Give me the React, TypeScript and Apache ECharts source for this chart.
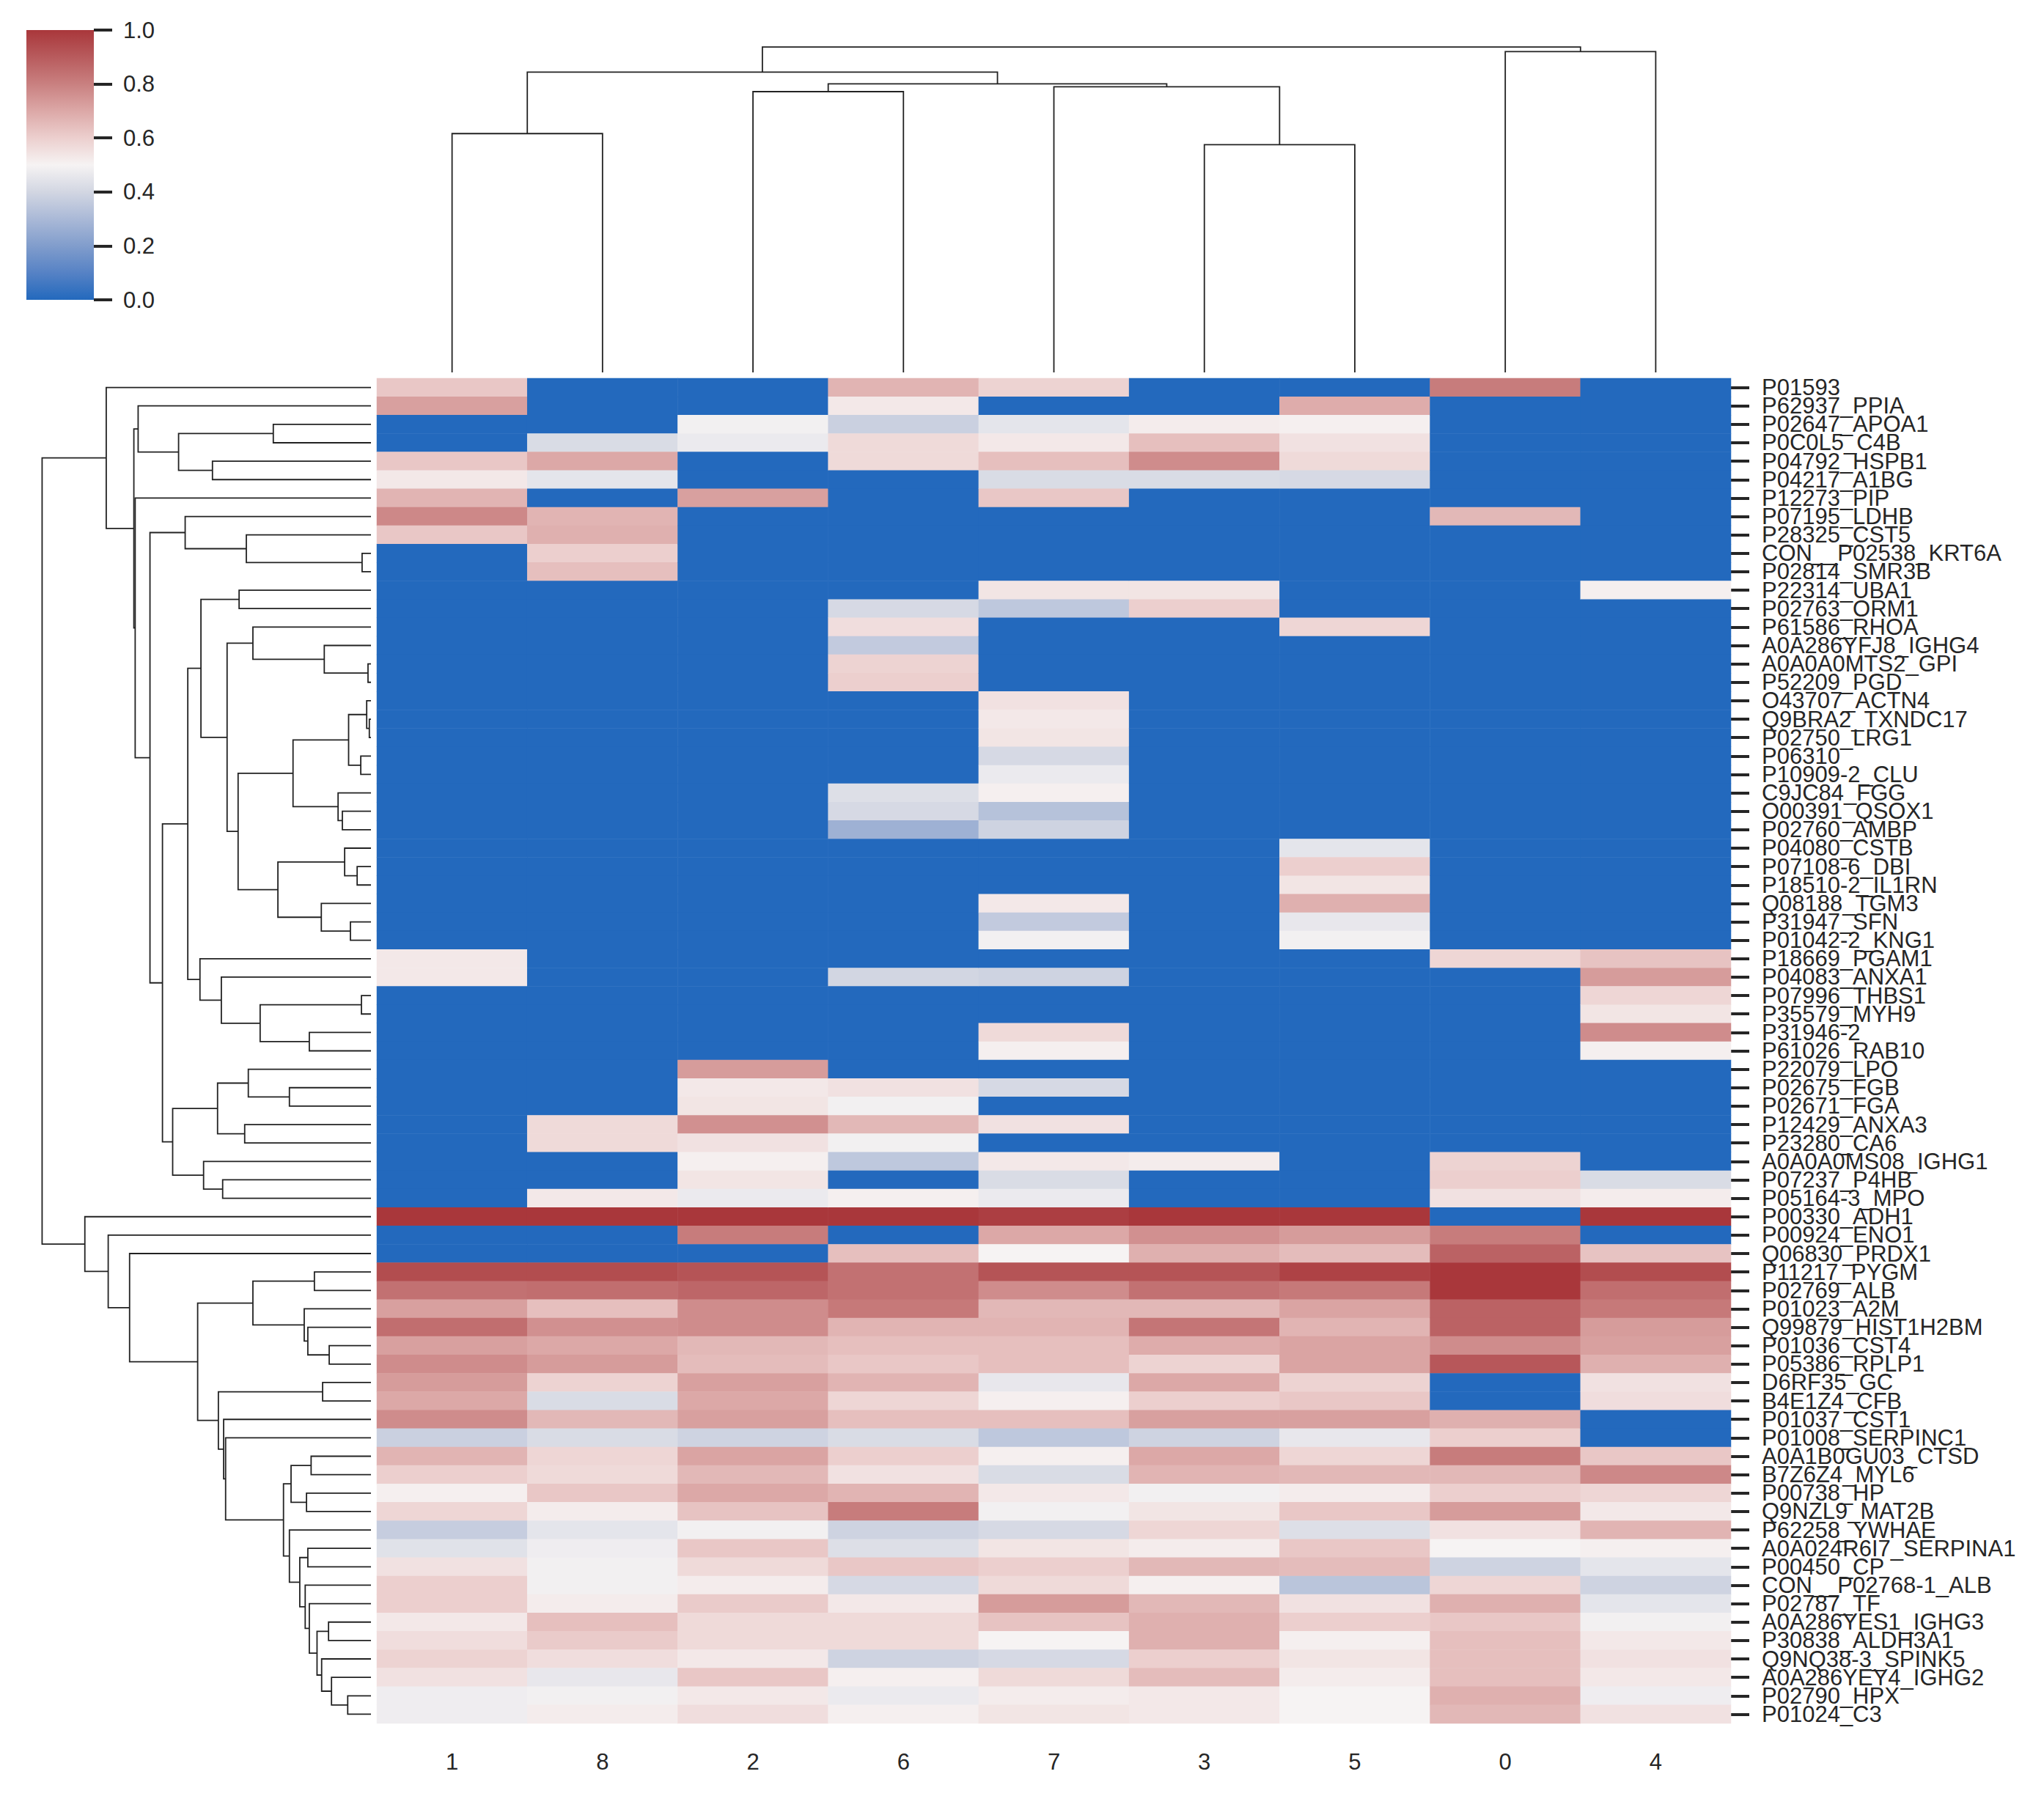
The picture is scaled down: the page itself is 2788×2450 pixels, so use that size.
import React, { useEffect, useRef } from "react";
import * as echarts from "echarts";

// ---------- data ----------
const colLabels = ["1", "8", "2", "6", "7", "3", "5", "0", "4"];

const rowLabels = [
  "P01593", "P62937_PPIA", "P02647_APOA1", "P0C0L5_C4B", "P04792_HSPB1", "P04217_A1BG",
  "P12273_PIP", "P07195_LDHB", "P28325_CST5", "CON__P02538_KRT6A", "P02814_SMR3B",
  "P22314_UBA1", "P02763_ORM1", "P61586_RHOA", "A0A286YFJ8_IGHG4", "A0A0A0MTS2_GPI",
  "P52209_PGD", "O43707_ACTN4", "Q9BRA2_TXNDC17", "P02750_LRG1", "P06310", "P10909-2_CLU",
  "C9JC84_FGG", "O00391_QSOX1", "P02760_AMBP", "P04080_CSTB", "P07108-6_DBI",
  "P18510-2_IL1RN", "Q08188_TGM3", "P31947_SFN", "P01042-2_KNG1", "P18669_PGAM1",
  "P04083_ANXA1", "P07996_THBS1", "P35579_MYH9", "P31946-2", "P61026_RAB10", "P22079_LPO",
  "P02675_FGB", "P02671_FGA", "P12429_ANXA3", "P23280_CA6", "A0A0A0MS08_IGHG1",
  "P07237_P4HB", "P05164-3_MPO", "P00330_ADH1", "P00924_ENO1", "Q06830_PRDX1",
  "P11217_PYGM", "P02769_ALB", "P01023_A2M", "Q99879_HIST1H2BM", "P01036_CST4",
  "P05386_RPLP1", "D6RF35_GC", "B4E1Z4_CFB", "P01037_CST1", "P01008_SERPINC1",
  "A0A1B0GU03_CTSD", "B7Z6Z4_MYL6", "P00738_HP", "Q9NZL9_MAT2B", "P62258_YWHAE",
  "A0A024R6I7_SERPINA1", "P00450_CP", "CON__P02768-1_ALB", "P02787_TF",
  "A0A286YES1_IGHG3", "P30838_ALDH3A1", "Q9NQ38-3_SPINK5", "A0A286YEY4_IGHG2",
  "P02790_HPX", "P01024_C3",
];

// one array per column (label), rows top to bottom
const col_1 = [
  0.62, 0.72, 0, 0, 0.62, 0.53, 0.67, 0.78, 0.62, 0,
  0, 0, 0, 0, 0, 0, 0, 0, 0, 0,
  0, 0, 0, 0, 0, 0, 0, 0, 0, 0,
  0, 0.53, 0.53, 0, 0, 0, 0, 0, 0, 0,
  0, 0, 0, 0, 0, 1.0, 0, 0, 0.94, 0.84,
  0.72, 0.85, 0.72, 0.77, 0.73, 0.70, 0.77, 0.38, 0.67, 0.60,
  0.51, 0.58, 0.37, 0.44, 0.55, 0.60, 0.60, 0.53, 0.56, 0.59,
  0.55, 0.48, 0.48,
];
const col_8 = [
  0, 0, 0, 0.42, 0.70, 0.45, 0, 0.67, 0.68, 0.60,
  0.64, 0, 0, 0, 0, 0, 0, 0, 0, 0,
  0, 0, 0, 0, 0, 0, 0, 0, 0, 0,
  0, 0, 0, 0, 0, 0, 0, 0, 0, 0,
  0.57, 0.57, 0, 0, 0.53, 1.0, 0, 0, 0.94, 0.85,
  0.64, 0.76, 0.70, 0.73, 0.59, 0.42, 0.66, 0.42, 0.58, 0.57,
  0.62, 0.52, 0.45, 0.48, 0.49, 0.49, 0.52, 0.64, 0.61, 0.56,
  0.46, 0.49, 0.52,
];
const col_2 = [
  0, 0, 0.49, 0.47, 0, 0, 0.72, 0, 0, 0,
  0, 0, 0, 0, 0, 0, 0, 0, 0, 0,
  0, 0, 0, 0, 0, 0, 0, 0, 0, 0,
  0, 0, 0, 0, 0, 0, 0, 0.73, 0.53, 0.54,
  0.76, 0.55, 0.51, 0.54, 0.47, 1.0, 0.81, 0, 0.92, 0.87,
  0.77, 0.77, 0.66, 0.65, 0.72, 0.70, 0.72, 0.39, 0.71, 0.66,
  0.70, 0.63, 0.49, 0.62, 0.57, 0.52, 0.61, 0.57, 0.57, 0.53,
  0.62, 0.53, 0.56,
];
const col_6 = [
  0.67, 0.53, 0.38, 0.57, 0.57, 0, 0, 0, 0, 0,
  0, 0, 0.41, 0.56, 0.36, 0.59, 0.60, 0, 0, 0,
  0, 0, 0.43, 0.41, 0.27, 0, 0, 0, 0, 0,
  0, 0, 0.40, 0, 0, 0, 0, 0, 0.55, 0.49,
  0.66, 0.49, 0.35, 0, 0.51, 1.0, 0, 0.64, 0.84, 0.84,
  0.82, 0.67, 0.64, 0.62, 0.67, 0.58, 0.64, 0.42, 0.60, 0.55,
  0.67, 0.81, 0.39, 0.43, 0.62, 0.41, 0.53, 0.57, 0.57, 0.39,
  0.51, 0.47, 0.51,
];
const col_7 = [
  0.59, 0, 0.45, 0.53, 0.64, 0.42, 0.62, 0, 0, 0,
  0, 0.54, 0.35, 0, 0, 0, 0, 0.55, 0.53, 0.54,
  0.41, 0.47, 0.51, 0.33, 0.39, 0, 0, 0, 0.53, 0.36,
  0.49, 0, 0.39, 0, 0, 0.57, 0.51, 0, 0.41, 0,
  0.55, 0, 0.53, 0.42, 0.47, 0.98, 0.70, 0.50, 0.92, 0.77,
  0.66, 0.67, 0.64, 0.64, 0.46, 0.51, 0.64, 0.35, 0.51, 0.42,
  0.53, 0.49, 0.41, 0.54, 0.60, 0.57, 0.73, 0.63, 0.50, 0.41,
  0.57, 0.52, 0.54,
];
const col_3 = [
  0, 0, 0.52, 0.64, 0.77, 0.42, 0, 0, 0, 0,
  0, 0.54, 0.60, 0, 0, 0, 0, 0, 0, 0,
  0, 0, 0, 0, 0, 0, 0, 0, 0, 0,
  0, 0, 0, 0, 0, 0, 0, 0, 0, 0,
  0, 0, 0.52, 0, 0, 1.0, 0.76, 0.68, 0.92, 0.84,
  0.66, 0.83, 0.69, 0.59, 0.70, 0.60, 0.72, 0.39, 0.70, 0.67,
  0.49, 0.54, 0.58, 0.52, 0.66, 0.51, 0.66, 0.68, 0.68, 0.60,
  0.65, 0.53, 0.53,
];
const col_5 = [
  0, 0.69, 0.51, 0.55, 0.57, 0.41, 0, 0, 0, 0,
  0, 0, 0, 0.58, 0, 0, 0, 0, 0, 0,
  0, 0, 0, 0, 0, 0.45, 0.60, 0.54, 0.68, 0.46,
  0.49, 0, 0, 0, 0, 0, 0, 0, 0, 0,
  0, 0, 0, 0, 0, 1.0, 0.73, 0.65, 0.97, 0.82,
  0.71, 0.67, 0.71, 0.71, 0.59, 0.62, 0.72, 0.46, 0.58, 0.66,
  0.52, 0.62, 0.43, 0.62, 0.65, 0.34, 0.55, 0.60, 0.51, 0.54,
  0.52, 0.50, 0.50,
];
const col_0 = [
  0.81, 0, 0, 0, 0, 0, 0, 0.66, 0, 0,
  0, 0, 0, 0, 0, 0, 0, 0, 0, 0,
  0, 0, 0, 0, 0, 0, 0, 0, 0, 0,
  0, 0.58, 0, 0, 0, 0, 0, 0, 0, 0,
  0, 0, 0.59, 0.60, 0.55, 0, 0.81, 0.88, 1.0, 1.0,
  0.88, 0.88, 0.77, 0.91, 0, 0, 0.68, 0.60, 0.81, 0.66,
  0.60, 0.73, 0.55, 0.50, 0.39, 0.58, 0.68, 0.62, 0.64, 0.64,
  0.64, 0.68, 0.66,
];
const col_4 = [
  0, 0, 0, 0, 0, 0, 0, 0, 0, 0,
  0, 0.51, 0, 0, 0, 0, 0, 0, 0, 0,
  0, 0, 0, 0, 0, 0, 0, 0, 0, 0,
  0, 0.63, 0.73, 0.58, 0.54, 0.77, 0.51, 0, 0, 0,
  0, 0, 0, 0.42, 0.52, 1.0, 0, 0.63, 0.94, 0.85,
  0.82, 0.73, 0.72, 0.68, 0.55, 0.56, 0, 0, 0.62, 0.78,
  0.58, 0.53, 0.67, 0.51, 0.45, 0.39, 0.45, 0.49, 0.53, 0.55,
  0.53, 0.48, 0.55,
];
const columns = [col_1, col_8, col_2, col_6, col_7, col_3, col_5, col_0, col_4];

// column dendrogram: [node, left, right, height]; numbers are leaf positions
const colLinks: [string, number | string, number | string, number][] = [
  ["root", "c18rest", "c04", 1.0],
  ["c04", 7, 8, 0.986],
  ["c18rest", "c18", "c26rest", 0.923],
  ["c26rest", "c26", "c735", 0.887],
  ["c735", 4, "c35", 0.878],
  ["c26", 2, 3, 0.863],
  ["c18", 0, 1, 0.734],
  ["c35", 5, 6, 0.700],
];

// row dendrogram: [node, left, right, height]
const rowLinks: [string, number | string, number | string, number][] = [
  ["root", "A", "BA", 1.0],
  ["A", 0, "B", 0.805],
  ["B", "C", "D", 0.721],
  ["C", 1, "F", 0.708],
  ["F", "G", "H", 0.585],
  ["G", 2, 3, 0.297],
  ["H", 4, 5, 0.482],
  ["D", 6, "E", 0.717],
  ["E", "I", "J", 0.672],
  ["I", 7, "K", 0.565],
  ["K", 8, "L", 0.379],
  ["L", 9, 10, 0.027],
  ["J", "M", "N", 0.634],
  ["M", "O", "P", 0.557],
  ["O", "Q", "R", 0.517],
  ["Q", 11, 12, 0.401],
  ["R", "S", "T", 0.4375],
  ["S", 13, "U", 0.359],
  ["U", 14, "V", 0.142],
  ["V", 15, 16, 0.009],
  ["T", "W", "X", 0.404],
  ["W", "Y", "Z", 0.237],
  ["Y", "AA", "AB", 0.068],
  ["AA", 17, "AC", 0.013],
  ["AC", 18, 19, 0.005],
  ["AB", 20, 21, 0.031],
  ["Z", 22, "AD", 0.100],
  ["AD", 23, 24, 0.087],
  ["X", "AE", "AF", 0.283],
  ["AE", 25, "AG", 0.080],
  ["AG", 26, 27, 0.042],
  ["AF", 28, "AH", 0.151],
  ["AH", 29, 30, 0.0625],
  ["P", 31, "AI", 0.520],
  ["AI", 32, "AJ", 0.455],
  ["AJ", "AK", "AL", 0.337],
  ["AK", 33, 34, 0.029],
  ["AL", 35, 36, 0.1875],
  ["N", "AM", "AN", 0.603],
  ["AM", "AO", "AP", 0.4665],
  ["AO", 37, "AQ", 0.373],
  ["AQ", 38, 39, 0.248],
  ["AP", 40, 41, 0.384],
  ["AN", 42, "AR", 0.509],
  ["AR", 43, 44, 0.451],
  ["BA", 45, "BB", 0.870],
  ["BB", 46, "BC", 0.799],
  ["BC", 47, "BD", 0.734],
  ["BD", "BE", "BF", 0.527],
  ["BE", "BG", "BH", 0.359],
  ["BG", 48, 49, 0.172],
  ["BH", 50, "BI", 0.203],
  ["BI", 51, "BJ", 0.192],
  ["BJ", 52, 53, 0.127],
  ["BF", "BK", "BL", 0.464],
  ["BK", 54, 55, 0.147],
  ["BL", 56, "BM", 0.448],
  ["BM", 57, "BN", 0.442],
  ["BN", "BO", "BP", 0.266],
  ["BO", "BQ", "BR", 0.243],
  ["BQ", 58, 59, 0.182],
  ["BR", 60, 61, 0.196],
  ["BP", 62, "BS", 0.248],
  ["BS", "BT", "BU", 0.2165],
  ["BT", 63, 64, 0.192],
  ["BU", 65, "BV", 0.200],
  ["BV", 66, "BW", 0.1875],
  ["BW", "BX", "BY", 0.164],
  ["BX", 67, 68, 0.129],
  ["BY", 69, "BZ", 0.150],
  ["BZ", 70, "CA", 0.120],
  ["CA", 71, 72, 0.0707],
];

const colorbarTicks = [0, 0.2, 0.4, 0.6, 0.8, 1.0];
const cmapColors = [
  "#2369bd", "#5682c5", "#819dcc", "#aab9d7", "#d2d6e2", "#f6f3f3",
  "#eccfce", "#dca8a7", "#c98080", "#b85b5d", "#a9373b",
];

// ---------- helpers ----------
function dendroSegments(links: [string, number | string, number | string, number][]) {
  const map = new Map<string, [string, number | string, number | string, number]>();
  links.forEach((l) => map.set(l[0], l));
  const segs: number[][] = [];
  const walk = (node: number | string): [number, number] => {
    if (typeof node === "number") return [node + 0.5, 0];
    const [, l, r, h] = map.get(node)!;
    const [pl, hl] = walk(l);
    const [pr, hr] = walk(r);
    segs.push([pl, pr, hl, hr, h]);
    return [(pl + pr) / 2, h];
  };
  walk(links[0][0]);
  return segs;
}

const TXT = "#262626";
const LINE = "#222222";
const FONT = "Liberation Sans, Arial, sans-serif";

export default function App() {
  const ref = useRef<HTMLDivElement>(null);

  useEffect(() => {
    document.body.style.margin = "0";
    if (!ref.current) return;
    const chart = echarts.init(ref.current, null, { renderer: "svg" });

    const heatData: number[][] = [];
    columns.forEach((col, ci) => col.forEach((v, ri) => heatData.push([ci, ri, v])));

    const colSegs = dendroSegments(colLinks);
    const rowSegs = dendroSegments(rowLinks);
    const maxH = 1.05;

    const gradStops = cmapColors.map((c, i) => ({ offset: i / (cmapColors.length - 1), color: c }));

    const option: any = {
      animation: false,
      backgroundColor: "#ffffff",
      textStyle: { fontFamily: FONT },
      grid: [
        { left: 514, top: 516, width: 1847, height: 1835 },
        { left: 514, top: 42, width: 1847, height: 466 },
        { left: 35, top: 516, width: 471, height: 1835 },
        { left: 36, top: 41, width: 92, height: 368 },
      ],
      visualMap: {
        show: false,
        type: "continuous",
        min: 0,
        max: 1,
        dimension: 2,
        seriesIndex: 0,
        inRange: { color: cmapColors },
      },
      xAxis: [
        {
          type: "category",
          gridIndex: 0,
          data: colLabels,
          position: "bottom",
          axisLine: { show: false },
          axisTick: { show: false },
          splitLine: { show: false },
          axisLabel: { interval: 0, fontSize: 31, color: TXT, margin: 37, fontFamily: FONT },
        },
        { type: "value", gridIndex: 1, min: 0, max: colLabels.length, show: false },
        { type: "value", gridIndex: 2, min: 0, max: maxH, inverse: true, show: false },
        { type: "value", gridIndex: 3, min: 0, max: 1, show: false },
      ],
      yAxis: [
        {
          type: "category",
          gridIndex: 0,
          data: rowLabels,
          inverse: true,
          position: "right",
          axisLine: { show: false, onZero: false },
          axisTick: {
            show: true,
            alignWithLabel: true,
            interval: 0,
            length: 25,
            lineStyle: { color: TXT, width: 4 },
          },
          splitLine: { show: false },
          axisLabel: { interval: 0, fontSize: 31, color: TXT, margin: 42, fontFamily: FONT },
        },
        { type: "value", gridIndex: 1, min: 0, max: maxH, show: false },
        { type: "value", gridIndex: 2, min: 0, max: rowLabels.length, inverse: true, show: false },
        {
          type: "value",
          gridIndex: 3,
          min: colorbarTicks[0],
          max: colorbarTicks[colorbarTicks.length - 1],
          interval: 0.2,
          position: "right",
          axisLine: { show: false, onZero: false },
          splitLine: { show: false },
          axisTick: { show: true, length: 25, lineStyle: { color: TXT, width: 4 } },
          axisLabel: {
            fontSize: 31,
            color: TXT,
            margin: 40,
            fontFamily: FONT,
            formatter: (v: number) => v.toFixed(1),
          },
        },
      ],
      series: [
        {
          type: "heatmap",
          xAxisIndex: 0,
          yAxisIndex: 0,
          data: heatData,
          itemStyle: { borderWidth: 0 },
          emphasis: { disabled: true },
        },
        {
          type: "custom",
          xAxisIndex: 1,
          yAxisIndex: 1,
          data: colSegs,
          clip: false,
          renderItem: (params: any, api: any) => {
            const pl = api.value(0), pr = api.value(1), hl = api.value(2), hr = api.value(3), h = api.value(4);
            return {
              type: "polyline",
              shape: { points: [api.coord([pl, hl]), api.coord([pl, h]), api.coord([pr, h]), api.coord([pr, hr])] },
              style: { stroke: LINE, lineWidth: 1.8, fill: null },
            };
          },
        },
        {
          type: "custom",
          xAxisIndex: 2,
          yAxisIndex: 2,
          data: rowSegs,
          clip: false,
          renderItem: (params: any, api: any) => {
            const pl = api.value(0), pr = api.value(1), hl = api.value(2), hr = api.value(3), h = api.value(4);
            return {
              type: "polyline",
              shape: { points: [api.coord([hl, pl]), api.coord([h, pl]), api.coord([h, pr]), api.coord([hr, pr])] },
              style: { stroke: LINE, lineWidth: 1.8, fill: null },
            };
          },
        },
        {
          type: "custom",
          xAxisIndex: 3,
          yAxisIndex: 3,
          data: [[0, 0, 1, 1]],
          z: 1,
          renderItem: (params: any, api: any) => {
            const p0 = api.coord([api.value(0), api.value(3)]);
            const p1 = api.coord([api.value(2), api.value(1)]);
            return {
              type: "rect",
              shape: { x: p0[0], y: p0[1], width: p1[0] - p0[0], height: p1[1] - p0[1] },
              style: { fill: new echarts.graphic.LinearGradient(0, 1, 0, 0, gradStops) },
            };
          },
        },
      ],
    };

    chart.setOption(option);
    return () => chart.dispose();
  }, []);

  return <div ref={ref} style={{ width: 2788, height: 2450 }} />;
}
